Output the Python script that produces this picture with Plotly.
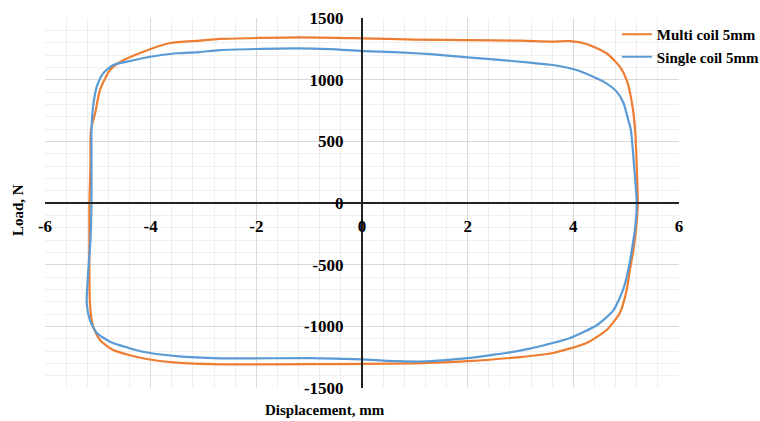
import plotly.graph_objects as go

# Multi coil 5mm (orange): upper branch left->right, then lower branch right->left
multi_x = [-5.16, -5.14, -5.13, -5.05, -4.96, -4.77, -4.58, -4.15, -3.63, -3.07, -2.69, -1.17, 0.0, 1.0, 2.0, 3.0, 3.6, 3.94, 4.25, 4.63, 4.88, 5.01, 5.10, 5.17, 5.20, 5.22,
           5.19, 5.13, 5.07, 5.01, 4.88, 4.63, 4.25, 3.62, 2.99, 2.0, 1.0, 0.0, -1.0, -2.69, -3.51, -4.15, -4.71, -4.96, -5.09, -5.15, -5.16, -5.16, -5.16]
multi_y = [0, 300, 594, 730, 916, 1078, 1143, 1224, 1297, 1316, 1330, 1343, 1335, 1325, 1320, 1316, 1309, 1313, 1289, 1214, 1105, 997, 835, 592, 300, 0,
           -200, -400, -543, -705, -892, -1030, -1135, -1216, -1249, -1282, -1300, -1305, -1307, -1308, -1295, -1259, -1192, -1111, -1003, -811, -543, -300, 0]

# Single coil 5mm (blue)
single_x = [-5.12, -5.12, -5.12, -5.09, -5.02, -4.90, -4.71, -4.45, -4.01, -3.51, -3.07, -2.69, -1.3, -0.6, 0.0, 0.7, 1.35, 2.0, 2.6, 3.18, 3.62, 4.06, 4.57, 4.82, 4.95, 5.04, 5.09, 5.15, 5.20,
            5.17, 5.10, 5.04, 4.94, 4.76, 4.45, 3.94, 3.31, 2.99, 2.5, 2.0, 1.1, 0.5, 0.0, -1.0, -2.69, -3.51, -4.15, -4.77, -5.02, -5.15, -5.21, -5.18, -5.14, -5.12]
single_y = [0, 300, 592, 781, 943, 1051, 1119, 1146, 1186, 1214, 1224, 1240, 1254, 1248, 1232, 1222, 1205, 1180, 1160, 1138, 1119, 1078, 984, 903, 811, 673, 592, 300, 0,
            -200, -400, -543, -705, -868, -989, -1095, -1168, -1197, -1230, -1258, -1285, -1280, -1268, -1258, -1259, -1241, -1206, -1124, -1054, -949, -811, -543, -300, 0]

series_names = ["Multi coil 5mm", "Single coil 5mm"]
series_colors = ["#ED7D31", "#5B9BD5"]

x_tick_vals = [-6, -4, -2, 0, 2, 4, 6]
x_tick_text = ["-6", "-4", "-2", "0", "2", "4", "6"]
y_tick_vals = [-1500, -1000, -500, 0, 500, 1000, 1500]
y_tick_text = ["-1500", "-1000", "-500", "0", "500", "1000", "1500"]

FONT = "Times New Roman, Liberation Serif, serif"

fig = go.Figure()
fig.add_trace(go.Scatter(x=multi_x, y=multi_y, mode="lines", name="<b>%s</b>" % series_names[0],
                         line=dict(color=series_colors[0], width=2.2, shape="spline", smoothing=0.6)))
fig.add_trace(go.Scatter(x=single_x, y=single_y, mode="lines", name="<b>%s</b>" % series_names[1],
                         line=dict(color=series_colors[1], width=2.2, shape="spline", smoothing=0.6)))

fig.update_layout(
    width=760, height=421,
    margin=dict(l=45, r=81, t=18, b=33, autoexpand=False),
    paper_bgcolor="white", plot_bgcolor="white",
    font=dict(family=FONT, color="black"),
    showlegend=True,
    legend=dict(x=0.902, y=1.0, xanchor="left", yanchor="top",
                bgcolor="rgba(0,0,0,0)", font=dict(family=FONT, size=15, color="black"),
                itemwidth=30, tracegroupgap=0),
    xaxis=dict(range=[-6, 6], tickmode="array", tickvals=x_tick_vals, ticktext=x_tick_text,
               anchor="free", position=0.5, automargin=False,
               showline=True, linecolor="#222222", linewidth=2,
               showgrid=True, gridcolor="#d9d9d9", gridwidth=1, zeroline=False,
               ticks="", ticklabelstandoff=8,
               tickfont=dict(family=FONT, size=17, color="black", weight="bold"),
               minor=dict(tickmode="linear", dtick=0.4, tick0=-6, showgrid=True, gridcolor="#efefef", gridwidth=1)),
    yaxis=dict(range=[-1500, 1500], tickmode="array", tickvals=y_tick_vals, ticktext=y_tick_text,
               anchor="free", position=0.5, automargin=False,
               showline=True, linecolor="#222222", linewidth=2,
               showgrid=True, gridcolor="#d9d9d9", gridwidth=1, zeroline=False,
               ticks="", ticklabelstandoff=14,
               tickfont=dict(family=FONT, size=17, color="black", weight="bold"),
               minor=dict(tickmode="linear", dtick=100, tick0=0, showgrid=True, gridcolor="#efefef", gridwidth=1)),
    annotations=[
        dict(text="<b>Displacement, mm</b>", xref="paper", yref="paper", x=0.4416, y=-0.0595,
             xanchor="center", yanchor="middle", showarrow=False,
             font=dict(family=FONT, size=15, color="black")),
        dict(text="<b>Load, N</b>", xref="paper", yref="paper", x=-0.0426, y=0.481, textangle=-90,
             xanchor="center", yanchor="middle", showarrow=False,
             font=dict(family=FONT, size=15, color="black")),
    ],
)

fig.write_html("out.html", config={"displayModeBar": False},
               post_script="document.body.style.margin='0';")
